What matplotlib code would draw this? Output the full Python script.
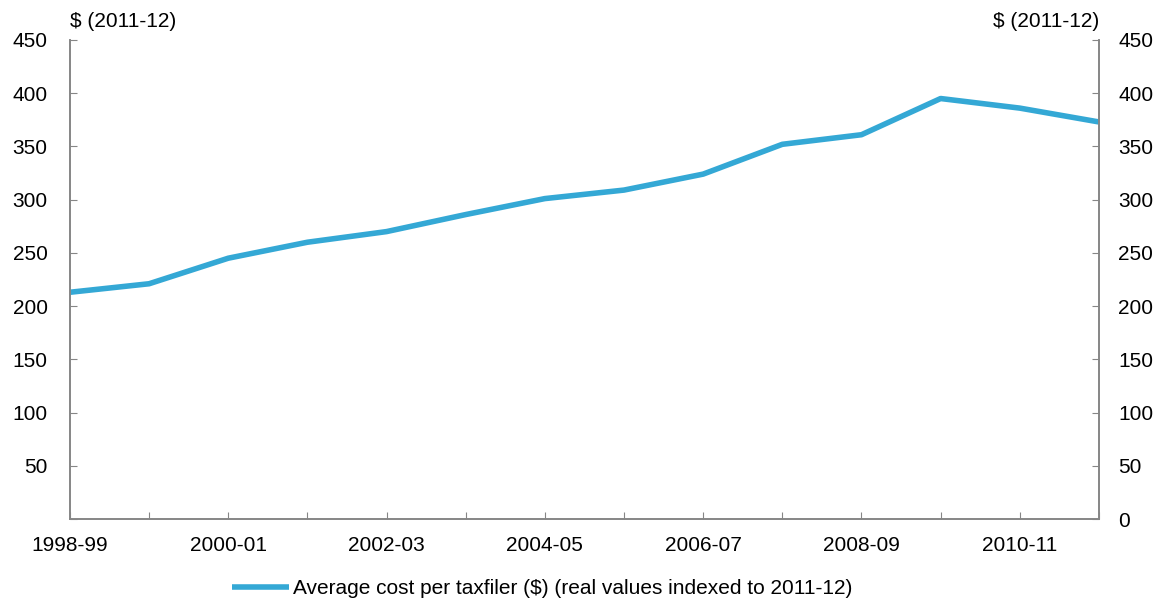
import numpy as np
import matplotlib.pyplot as plt

plt.rcParams['font.family'] = ['Liberation Sans', 'DejaVu Sans']

years = ['1998-99', '1999-00', '2000-01', '2001-02', '2002-03', '2003-04', '2004-05',
         '2005-06', '2006-07', '2007-08', '2008-09', '2009-10', '2010-11', '2011-12']
avg_cost = [213, 221, 245, 260, 270, 286, 301, 309, 324, 352, 361, 395, 386, 373]

grey = '#868686'
blue = '#34A8D5'
fs = 15

fig = plt.figure(figsize=(11.64, 6.03), dpi=100)
ax = fig.add_axes([0.0601, 0.1393, 0.8840, 0.7944])

x = np.arange(len(years))
ax.plot(x, avg_cost, color=blue, lw=4, solid_capstyle='butt',
        label='Average cost per taxfiler ($) (real values indexed to 2011-12)')

ax.set_xlim(0, len(years) - 1)
ax.set_ylim(0, 450)
ax.set_xticks(x)
ax.set_xticklabels([y if i % 2 == 0 else '' for i, y in enumerate(years)])
ax.set_yticks(np.arange(0, 451, 50))
ax.set_yticklabels([''] + [str(v) for v in range(50, 451, 50)])

ax2 = ax.twinx()
ax2.set_ylim(0, 450)
ax2.set_yticks(np.arange(0, 451, 50))

for a in (ax, ax2):
    for s in a.spines.values():
        s.set_color(grey)
        s.set_linewidth(1.2)
    a.spines['top'].set_visible(False)
ax.tick_params(axis='y', direction='in', length=5, color=grey, labelsize=fs, pad=16)
ax.tick_params(axis='x', direction='in', length=5, color=grey, labelsize=fs, pad=12)
ax2.tick_params(axis='y', direction='in', length=5, color=grey, labelsize=fs, pad=14)

fig.text(0.0601, 0.948, '$ (2011-12)', fontsize=fs, ha='left', va='bottom')
fig.text(0.9441, 0.948, '$ (2011-12)', fontsize=fs, ha='right', va='bottom')

ax.legend(loc='center', bbox_to_anchor=(0.459, -0.145), frameon=False,
          fontsize=fs, handlelength=2.75, handletextpad=0.2)

fig.savefig('out.png', dpi=100)
